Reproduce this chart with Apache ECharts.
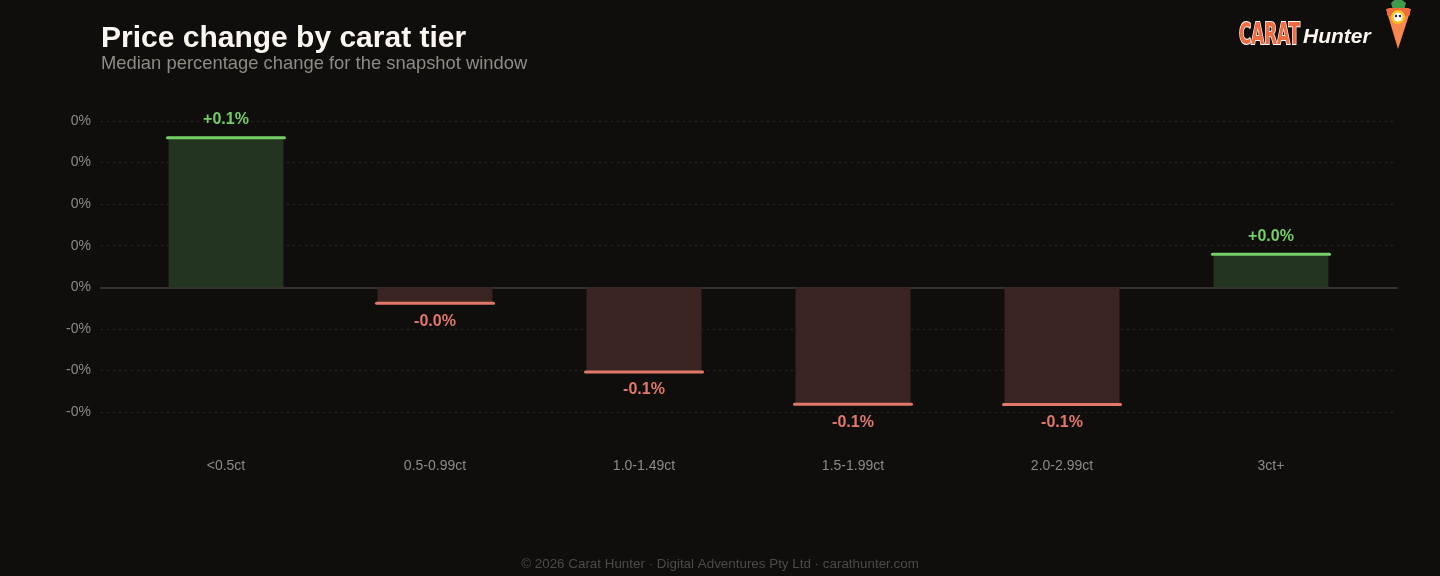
<!DOCTYPE html>
<html>
<head>
<meta charset="utf-8">
<script src="https://cdn.jsdelivr.net/npm/echarts@6/dist/echarts.min.js"></script>
<style>
html,body{margin:0;padding:0;background:#0f0e0d;}
#chart{width:1440px;height:576px;}
</style>
</head>
<body>
<div id="chart"></div>
<script>
const categories = ['<0.5ct', '0.5-0.99ct', '1.0-1.49ct', '1.5-1.99ct', '2.0-2.99ct', '3ct+'];
const medianChange = [0.090, -0.0096, -0.051, -0.0704, -0.0705, 0.0198];
const yMin = -0.075, yMax = 0.1, yStep = 0.025;

const FONT = "'Liberation Sans', Arial, sans-serif";
const POS_LINE = '#76cf66', POS_FILL = '#233421';
const NEG_LINE = '#e2786a', NEG_FILL = '#3a2421';

const chart = echarts.init(document.getElementById('chart'));

function fmt(v) { return (v >= 0 ? '+' : '') + v.toFixed(1) + '%'; }

const option = {
  backgroundColor: '#0f0e0d',
  animation: false,
  textStyle: { fontFamily: FONT },
  title: [
    { text: 'Price change by carat tier', left: 101, top: 24, padding: 0,
      textStyle: { color: '#fbf6ef', fontSize: 30, fontWeight: 'bold', fontFamily: FONT } },
    { text: 'Median percentage change for the snapshot window', left: 101, top: 55, padding: 0,
      textStyle: { color: '#8f8a83', fontSize: 18.4, fontWeight: 'normal', fontFamily: FONT } },
    { text: '© 2026 Carat Hunter · Digital Adventures Pty Ltd · carathunter.com', left: 'center', top: 558, padding: 0,
      textStyle: { color: '#4e4a46', fontSize: 13.4, fontWeight: 'normal', fontFamily: FONT } }
  ],
  grid: [
    { left: 101, right: 43, top: 121, bottom: 164 },
    { left: 121.5, right: 64.5, top: 121, bottom: 164 }
  ],
  xAxis: [
    { type: 'value', gridIndex: 0, min: 0, max: 1,
      axisLine: { show: true, onZero: true, lineStyle: { color: '#36322f', width: 2 } },
      axisTick: { show: false }, axisLabel: { show: false }, splitLine: { show: false } },
    { type: 'category', gridIndex: 1, data: categories,
      axisLine: { show: false, onZero: false }, axisTick: { show: false }, splitLine: { show: false },
      axisLabel: { color: '#8e8983', fontSize: 14, margin: 47, fontFamily: FONT } }
  ],
  yAxis: [
    { type: 'value', gridIndex: 0, min: yMin, max: yMax, interval: yStep,
      axisLine: { show: false }, axisTick: { show: false },
      axisLabel: { color: '#8e8983', fontSize: 14, margin: 10, fontFamily: FONT,
        formatter: v => v.toFixed(0) + '%' },
      splitLine: { show: true, lineStyle: { color: '#2a2725', type: [2, 4], width: 1 } } },
    { type: 'value', gridIndex: 1, min: yMin, max: yMax, interval: yStep, show: false,
      splitLine: { show: false } }
  ],
  series: [{
    type: 'custom',
    xAxisIndex: 1, yAxisIndex: 1,
    data: medianChange.map((v, i) => [i, v]),
    renderItem: function (params, api) {
      const idx = api.value(0), v = api.value(1);
      const base = api.coord([idx, 0]);
      const end = api.coord([idx, v]);
      const bw = api.size([1, 0])[0] * 0.55;
      const pos = v >= 0;
      const x0 = base[0] - bw / 2;
      return {
        type: 'group',
        children: [
          { type: 'rect', shape: { x: x0, y: Math.min(base[1], end[1]), width: bw, height: Math.abs(end[1] - base[1]) },
            style: { fill: pos ? POS_FILL : NEG_FILL } },
          { type: 'line', shape: { x1: x0 - 1, y1: end[1], x2: x0 + bw + 1, y2: end[1] },
            style: { stroke: pos ? POS_LINE : NEG_LINE, lineWidth: 3, lineCap: 'round' } },
          { type: 'text', x: base[0], y: pos ? end[1] - 18 : end[1] + 18,
            style: { text: fmt(v), fill: pos ? POS_LINE : NEG_LINE, font: 'bold 16px ' + FONT,
              align: 'center', verticalAlign: 'middle' } }
        ]
      };
    }
  }],
  graphic: [
    { type: 'text', x: 1239, y: 20, scaleX: 0.6,
      style: { text: 'CARAT', fill: '#f26b3e', stroke: '#ffffff', lineWidth: 2,
        font: 'bold 31px "DejaVu Sans Condensed", "DejaVu Sans", sans-serif', verticalAlign: 'top' } },
    { type: 'text', x: 1303, y: 27,
      style: { text: 'Hunter', fill: '#fbf6ef', font: 'italic bold 21px ' + FONT, verticalAlign: 'top' } },
    { type: 'polygon', shape: { points: [[1391, 3], [1398, -3], [1406, 3], [1404, 10], [1393, 10]] },
      style: { fill: '#3f9a4a' } },
    { type: 'polygon', shape: { points: [[1386, 9], [1411, 9], [1398, 49]] },
      style: { fill: '#f5874f' } },
    { type: 'rect', shape: { x: 1387, y: 8, width: 23, height: 8, r: 2 }, style: { fill: '#f26b3e' } },
    { type: 'circle', shape: { cx: 1398, cy: 17, r: 7 }, style: { fill: '#f7c21a' } },
    { type: 'circle', shape: { cx: 1398, cy: 17, r: 4.5 }, style: { fill: '#ffffff' } },
    { type: 'circle', shape: { cx: 1396, cy: 16, r: 1.2 }, style: { fill: '#222' } },
    { type: 'circle', shape: { cx: 1400, cy: 16, r: 1.2 }, style: { fill: '#222' } }
  ]
};
chart.setOption(option);
</script>
</body>
</html>
